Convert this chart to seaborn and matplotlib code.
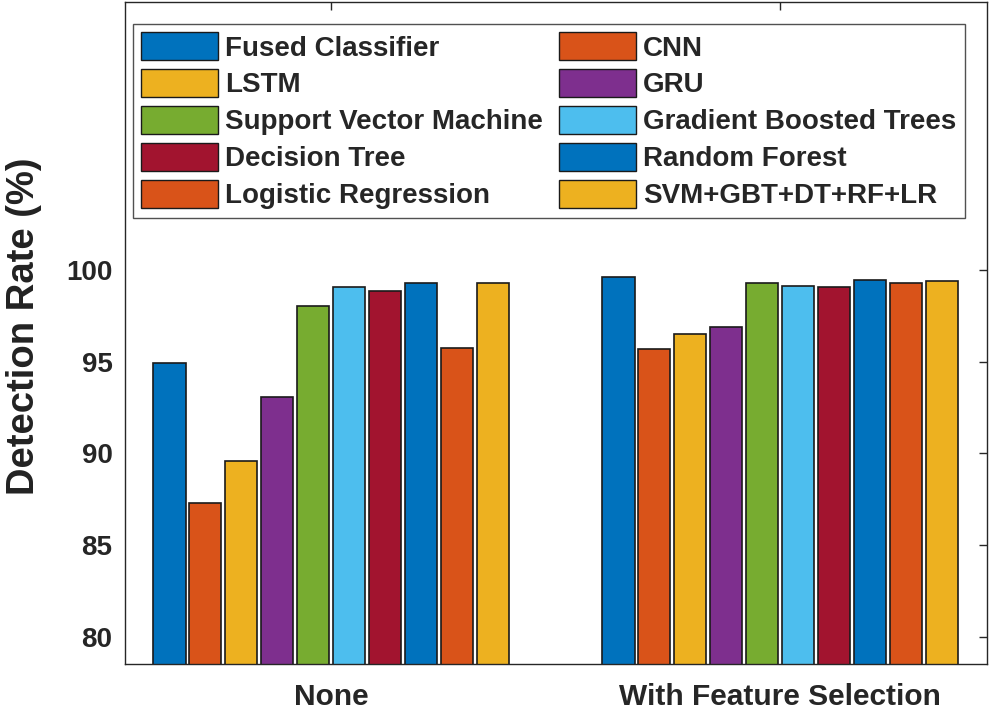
import numpy as np
import pandas as pd
import matplotlib
matplotlib.use("Agg")
import matplotlib.pyplot as plt
from matplotlib.patches import Patch
import seaborn as sns

conditions = ["None", "With Feature Selection"]
models = ["Fused Classifier", "CNN", "LSTM", "GRU", "Support Vector Machine",
          "Gradient Boosted Trees", "Decision Tree", "Random Forest",
          "Logistic Regression", "SVM+GBT+DT+RF+LR"]
none_vals = [94.9, 87.3, 89.6, 93.1, 98.0, 99.05, 98.85, 99.3, 95.75, 99.3]
fs_vals = [99.6, 95.7, 96.5, 96.9, 99.25, 99.1, 99.05, 99.45, 99.3, 99.4]
colors = ["#0072BD", "#D95319", "#EDB120", "#7E2F8E", "#77AC30",
          "#4DBEEE", "#A2142F", "#0072BD", "#D95319", "#EDB120"]
yticks = [80, 85, 90, 95, 100]

df = pd.DataFrame({
    "condition": np.repeat(conditions, len(models)),
    "model": models * 2,
    "value": none_vals + fs_vals,
})

sns.set_theme(style="white")
plt.rcParams["font.family"] = ["Liberation Sans", "DejaVu Sans"]
plt.rcParams["font.weight"] = "bold"

fig = plt.figure(figsize=(9.91, 7.12), dpi=100)
ax = fig.add_axes([0.1261, 0.0674, 0.996 - 0.1261, 0.997 - 0.0674])

sns.barplot(data=df, x="condition", y="value", hue="model", hue_order=models,
            palette=colors, width=0.8, gap=0.1, edgecolor="#1a1a1a",
            linewidth=1.2, errorbar=None, legend=False, ax=ax, saturation=1)

ax.set_xlim(-0.459, 1.461)
ax.set_ylim(78.55, 114.55)
ax.set_yticks(yticks)
ax.set_xlabel("")
ax.set_ylabel("Detection Rate (%)", fontsize=27.5, fontweight="bold",
              color="#222222")
ax.yaxis.set_label_coords(-0.0963, 0.51)
ax.tick_params(axis="y", direction="in", length=6, width=1, right=True,
               labelsize=20, pad=9, colors="#262626")
ax.tick_params(axis="x", direction="in", length=6, width=1, top=True,
               labelsize=21.5, pad=14, colors="#262626")
for lab in ax.get_xticklabels() + ax.get_yticklabels():
    lab.set_fontweight("bold")
for sp in ax.spines.values():
    sp.set_color("#262626")
    sp.set_linewidth(1.0)

# legend filled row-wise like the original (two columns)
order = [0, 2, 4, 6, 8, 1, 3, 5, 7, 9]
handles = [Patch(facecolor=colors[i], edgecolor="#1a1a1a", linewidth=1.0) for i in order]
labels = [models[i] for i in order]
leg = ax.legend(handles, labels, ncol=2, loc="upper left",
                bbox_to_anchor=(0.1342, 0.9663), bbox_transform=fig.transFigure,
                borderaxespad=0, prop={"weight": "bold", "size": 20},
                handlelength=2.77, handleheight=1.15, handletextpad=0.25,
                labelspacing=0.28, columnspacing=0.58, borderpad=0.3,
                frameon=True, fancybox=False, edgecolor="#262626")
leg.get_frame().set_linewidth(1.0)

fig.savefig("out.png", dpi=100)
